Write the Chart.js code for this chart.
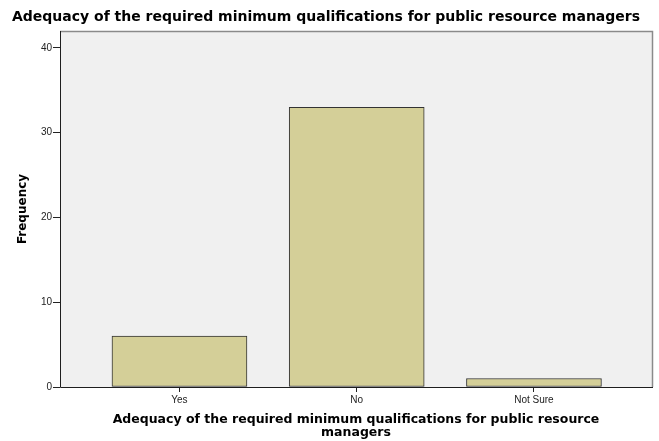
<!DOCTYPE html>
<html>
<head>
<meta charset="utf-8">
<script src="https://cdn.jsdelivr.net/npm/chart.js@4"></script>
<style>
  html, body { margin: 0; padding: 0; background: #fff; }
  #wrap { width: 659px; height: 441px; }
</style>
</head>
<body>
<div id="wrap"><canvas id="chart" width="659" height="441"></canvas></div>
<script>
// chart data
const categories = ['Yes', 'No', 'Not Sure'];
const frequency = [6, 33, 1];
const yTicks = [0, 10, 20, 30, 40];

const chartTitle = 'Adequacy of the required minimum qualifications for public resource managers';
const xTitle = ['Adequacy of the required minimum qualifications for public resource', 'managers'];
const yTitle = 'Frequency';

const SANS = "'Liberation Sans', Arial, sans-serif";
const WIDE = "'DejaVu Sans', Verdana, sans-serif";

// grey panel + frame like the SPSS output
const framePlugin = {
  id: 'frame',
  beforeDatasetsDraw(chart) {
    const { ctx, chartArea: a } = chart;
    ctx.save();
    ctx.fillStyle = '#f0f0f0';
    ctx.fillRect(a.left, a.top, a.right - a.left, a.bottom - a.top);
    ctx.restore();
  },
  afterDraw(chart) {
    const { ctx, chartArea: a } = chart;
    ctx.save();
    ctx.strokeStyle = '#8a8a8a';
    ctx.lineWidth = 1.5;
    ctx.beginPath();
    ctx.moveTo(a.left, a.top + 0.5);
    ctx.lineTo(a.right + 0.5, a.top + 0.5);
    ctx.lineTo(a.right + 0.5, a.bottom);
    ctx.stroke();
    ctx.strokeStyle = '#1e1e1e';
    ctx.lineWidth = 1;
    ctx.beginPath();
    ctx.moveTo(a.left + 0.5, a.top);
    ctx.lineTo(a.left + 0.5, a.bottom + 0.5);
    ctx.lineTo(a.right + 1, a.bottom + 0.5);
    ctx.stroke();
    ctx.restore();
  }
};

new Chart(document.getElementById('chart').getContext('2d'), {
  type: 'bar',
  data: {
    datasets: [{
      label: yTitle,
      data: frequency.map((v, i) => ({ x: i, y: v })),
      backgroundColor: '#d4cf98',
      borderColor: '#333333',
      borderWidth: 1,
      borderSkipped: false,
      barThickness: 135
    }]
  },
  options: {
    responsive: false,
    animation: false,
    layout: { padding: { left: 0, right: 7, top: 0, bottom: 0 } },
    plugins: {
      legend: { display: false },
      tooltip: { enabled: false },
      title: {
        display: true,
        text: chartTitle,
        color: '#000',
        font: { family: WIDE, size: 14, weight: 'bold' },
        padding: { top: 9.4, bottom: 4.8 }
      }
    },
    scales: {
      x: {
        type: 'linear',
        offset: false,
        min: -0.674,
        max: 2.666,
        afterBuildTicks(s) { s.ticks = categories.map((c, i) => ({ value: i })); },
        afterFit(s) { s.height = 54; },
        ticks: {
          callback: (v) => categories[v],
          color: '#222',
          font: { family: SANS, size: 10 },
          padding: 2,
          maxRotation: 0,
          autoSkip: false
        },
        grid: { display: true, offset: false, drawOnChartArea: false, drawTicks: true, tickLength: 5, color: '#222' },
        border: { display: false },
        title: {
          display: true,
          text: xTitle,
          color: '#000',
          font: { family: WIDE, size: 12.5, weight: 'bold', lineHeight: 1.0 },
          padding: { top: 0, bottom: 2.5 }
        }
      },
      y: {
        min: 0,
        max: 42,
        afterBuildTicks(s) { s.ticks = yTicks.map(v => ({ value: v })); },
        afterFit(s) { s.width = 60; },
        ticks: {
          color: '#222',
          font: { family: SANS, size: 10 },
          padding: 1
        },
        grid: { display: true, drawOnChartArea: false, drawTicks: true, tickLength: 7, color: '#222' },
        border: { display: false },
        title: {
          display: true,
          text: yTitle,
          color: '#000',
          font: { family: WIDE, size: 12, weight: 'bold' },
          padding: { top: 15.3, bottom: 0 }
        }
      }
    }
  },
  plugins: [framePlugin]
});
</script>
</body>
</html>
